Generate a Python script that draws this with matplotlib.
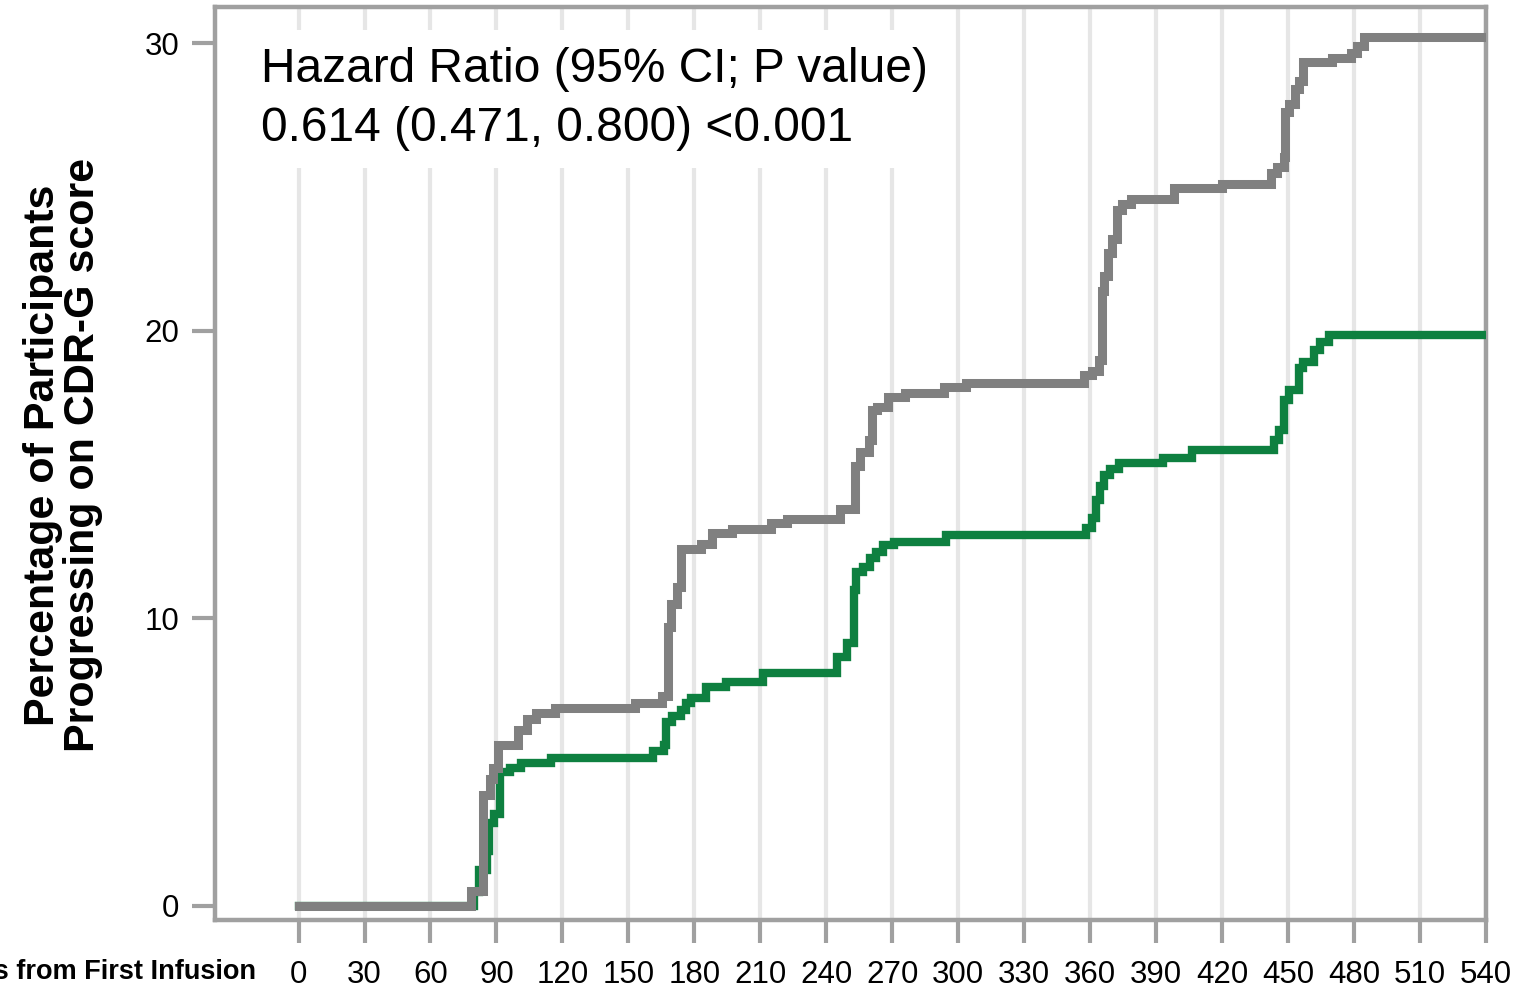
import numpy as np
import matplotlib
matplotlib.use("Agg")
import matplotlib.pyplot as plt

plt.rcParams['font.family'] = ['Liberation Sans', 'DejaVu Sans']

# Kaplan-Meier style cumulative progression (%), step changes at each day
placebo_days = [0, 78.6, 84, 87, 88.5, 90.5, 99.6, 104, 108, 116.4, 153,
                165.5, 167.8, 169.5, 172, 174, 183, 187.8, 197, 215, 222,
                246, 253, 255.5, 259.6, 261, 263, 268, 276, 293.7, 303.7,
                357, 361, 364, 365.2, 366.5, 368, 370, 372, 374.6, 378.7,
                398, 420, 442, 445, 448, 448.5, 450.5, 453, 455, 456.6,
                470, 478.8, 481.5, 484.7, 540]
placebo_pct = [0, 0.52, 3.86, 4.4, 4.8, 5.6, 6.1, 6.5, 6.7, 6.88, 7.06,
               7.3, 9.7, 10.5, 11.1, 12.4, 12.6, 12.97, 13.1, 13.3, 13.45,
               13.8, 15.3, 15.8, 16.2, 17.25, 17.35, 17.7, 17.85, 18.05, 18.2,
               18.45, 18.6, 19.0, 21.4, 21.9, 22.7, 23.2, 24.2, 24.4, 24.6,
               24.97, 25.1, 25.5, 25.7, 26.05, 27.6, 27.9, 28.4, 28.7, 29.35,
               29.5, 29.65, 29.9, 30.2, 30.2]

treated_days = [0, 80, 82, 85.5, 86.5, 89, 91.5, 96, 101, 115, 161, 166,
                167.3, 170, 174, 176, 178.5, 185.5, 194.6, 211, 245, 249.5,
                252.8, 253.5, 256.5, 260, 262.5, 266, 271, 294.6, 358, 361,
                362.5, 364.5, 366.5, 369, 373, 393, 406.5, 443.7, 446, 448,
                450.5, 455, 457, 462, 464.5, 468.7, 540]
treated_pct = [0, 0.5, 1.25, 1.9, 2.9, 3.2, 4.66, 4.8, 4.97, 5.15, 5.4, 5.6,
               6.4, 6.6, 6.8, 7.06, 7.23, 7.6, 7.8, 8.1, 8.66, 9.15,
               11.0, 11.6, 11.8, 12.1, 12.3, 12.55, 12.66, 12.9, 13.15, 13.5,
               14.1, 14.6, 15.0, 15.2, 15.4, 15.58, 15.86, 16.2, 16.55, 17.6,
               17.95, 18.7, 18.9, 19.33, 19.6, 19.85, 19.85]

x_ticks = list(range(0, 541, 30))
y_ticks = [0, 10, 20, 30]

hr_text = "Hazard Ratio (95% CI; P value)\n0.614 (0.471, 0.800) <0.001"

axis_grey = '#A0A0A0'

fig = plt.figure(figsize=(15.24, 9.94), dpi=100)
ax = fig.add_axes([215 / 1524, 1 - 920 / 994, (1486 - 215) / 1524, (920 - 7) / 994])

ax.plot(treated_days, treated_pct, drawstyle='steps-post', color='#0E8040',
        lw=6.0, solid_joinstyle='miter', zorder=3)
ax.plot(placebo_days, placebo_pct, drawstyle='steps-post', color='#808080',
        lw=6.5, solid_joinstyle='miter', zorder=4)

ax.set_xlim(-38, 540)
ax.set_ylim(-0.49, 31.26)
ax.set_xticks(x_ticks)
ax.set_yticks(y_ticks)
ax.xaxis.grid(True, color='#E6E6E6', lw=3, zorder=0)
ax.yaxis.grid(False)
ax.set_axisbelow(True)

for s in ax.spines.values():
    s.set_color(axis_grey)
    s.set_linewidth(3.2)

ax.tick_params(axis='both', length=16.5, width=3, color=axis_grey,
               labelsize=22.5, labelcolor='black')
ax.tick_params(axis='x', pad=12)
ax.tick_params(axis='y', pad=9)

ax.text(261 / 1524, 1 - 47 / 994, hr_text, transform=fig.transFigure,
        ha='left', va='top', fontsize=34.5, linespacing=1.4, zorder=5,
        bbox=dict(facecolor='white', edgecolor='none', pad=12))

fig.text(256 / 1524, 1 - 972 / 994, "Days from First Infusion",
         ha='right', va='center', fontsize=19.5, fontweight='bold')
fig.text(63 / 1524, 1 - 455 / 994,
         "Percentage of Participants\nProgressing on CDR-G score",
         rotation=90, ha='center', va='center', multialignment='center',
         fontsize=31, fontweight='bold', linespacing=1.02)

fig.savefig('out.png', dpi=100)
